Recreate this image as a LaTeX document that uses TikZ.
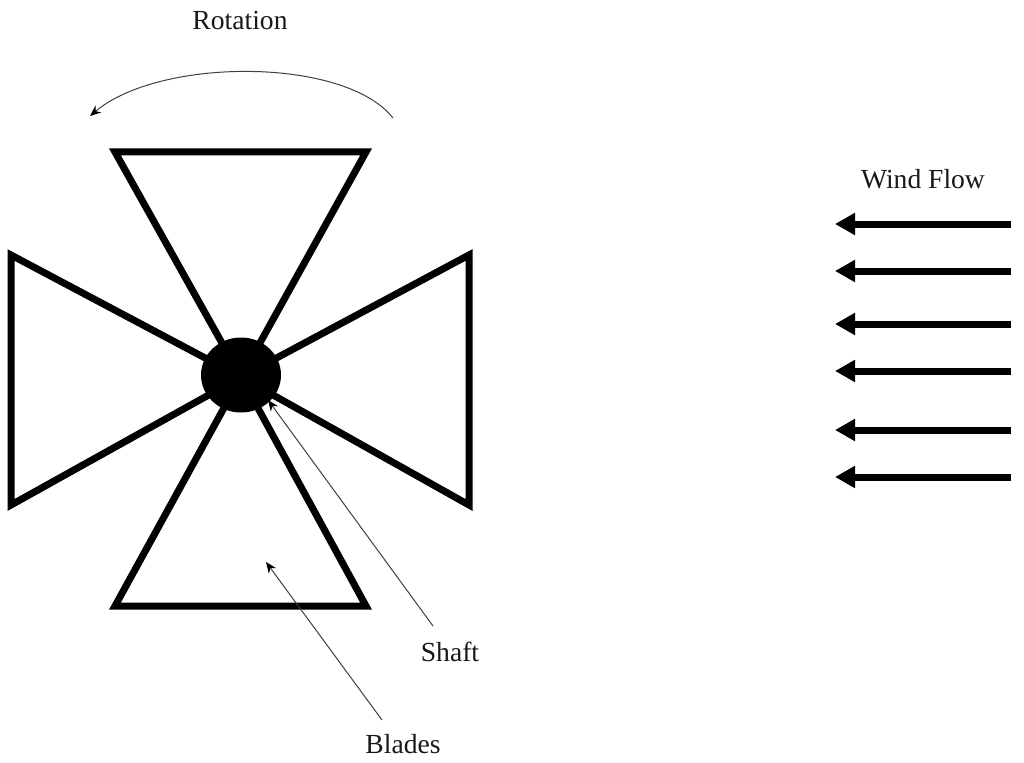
\documentclass[tikz,border=0pt]{standalone}
\usepackage{fontspec}
\setmainfont{Liberation Serif}
\usetikzlibrary{arrows.meta,shapes.geometric}
\tikzset{
  bladeshape/.style={draw=black,line width=7pt,miter limit=10,line join=miter},
  windarrow/.style={draw=black,line width=7pt,-{Triangle[length=20pt,width=21pt]},shorten >=0pt},
  thinarrow/.style={draw=black!75,line width=1pt,-{Stealth[length=11pt,width=9pt,color=black]}},
  lab/.style={font=\fontsize{27.6}{30}\selectfont,text=black!90,inner sep=0pt,anchor=center},
}
\begin{document}
\begin{tikzpicture}[x=1pt,y=-1pt]
\useasboundingbox[fill=white] (0,0) rectangle (1024,762);
% blades
\draw[bladeshape] (241,377) -- (115,152) -- (366,152) -- cycle;
\draw[bladeshape] (241,377) -- (115,606) -- (366,606) -- cycle;
\draw[bladeshape] (241,377) -- (11,255) -- (11,505) -- cycle;
\draw[bladeshape] (241,377) -- (469,255) -- (469,505) -- cycle;
% shaft
\node[draw=none,fill=black,ellipse,minimum width=80pt,minimum height=75pt,inner sep=0pt] (shaft) at (241,375) {};
\coordinate (shaftTip) at (268,400);
\coordinate (bladeTip) at (266,562);
% labels
\node[lab] (rot) at (240,20.5) {Rotation};
\node[lab] (wind) at (923,179) {Wind Flow};
\node[lab] (shaftLab) at (450,652) {Shaft};
\node[lab] (bladesLab) at (403,744) {Blades};
% leaders
\coordinate (shaftFoot) at (433,626);
\coordinate (bladesFoot) at (382,720);
\draw[thinarrow] (shaftFoot) -- (shaftTip);
\draw[thinarrow] (bladesFoot) -- (bladeTip);
% rotation
\coordinate (rotA) at (393,118);
\coordinate (rotB) at (90,116);
\draw[thinarrow] (rotA) .. controls (345,57) and (160,57) .. (rotB);
% wind
\foreach \n/\y in {a/224,b/271,c/324,d/371,e/430,f/477}{
  \coordinate (w\n R) at (1011,\y);
  \coordinate (w\n L) at (835,\y);
  \draw[windarrow] (w\n R) -- (w\n L);
}
\end{tikzpicture}
\end{document}
